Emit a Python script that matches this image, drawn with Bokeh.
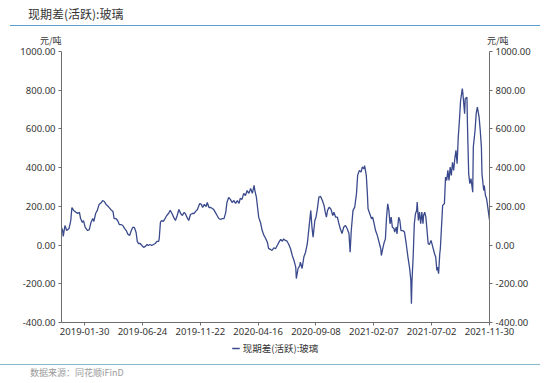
from bokeh.plotting import figure
from bokeh.models import (LinearAxis, FixedTicker, NumeralTickFormatter, Range1d,
                          Legend, LegendItem, ColumnDataSource, Div)
from bokeh.layouts import column
from bokeh.embed import file_html
from bokeh.resources import INLINE

# ---------------- data ----------------
trade_day = [0, 2, 3, 6, 9, 13, 16, 18, 21, 25, 28, 31, 33, 36, 38, 41, 45, 48, 51, 54, 56, 59, 62, 65,
             69, 71, 74, 77, 81, 85, 89, 91, 94, 97, 100, 103, 106, 109, 112, 115, 118, 120, 123, 126,
             129, 131, 133, 136, 139, 142, 145, 148, 150, 153, 156, 159, 162, 165, 168, 169, 171, 173,
             176, 179, 182, 185, 188, 191, 194, 197, 200, 203, 206, 209, 212, 214, 217, 220, 223, 226,
             229, 232, 235, 237, 239, 242, 244, 247, 250, 252, 255, 258, 261, 263, 266, 269, 272, 275,
             278, 281, 284, 286, 289, 292, 295, 298, 301, 304, 307, 309, 312, 315, 318, 321, 324, 327,
             330, 333, 334, 337, 339, 341, 344, 347, 350, 353, 356, 358, 361, 364, 367, 370, 373, 376,
             379, 382, 384, 387, 390, 393, 396, 399, 402, 405, 406, 409, 412, 413, 416, 419, 422, 425,
             428, 431, 433, 435, 438, 440, 442, 445, 448, 451, 454, 456, 458, 460, 463, 466, 469, 471,
             474, 477, 479, 482, 485, 488, 491, 494, 497, 499, 501, 504, 507, 510, 512, 515, 518, 520,
             523, 524, 527, 529, 530, 533, 536, 538, 540, 543, 546, 549, 552, 553, 556, 558, 560, 562,
             564, 566, 568, 570, 572, 575, 576, 579, 580, 583, 585, 587, 590, 593, 596, 599, 602, 604,
             605, 606, 608, 610, 612, 614, 615, 617, 619, 621, 623, 625, 626, 628, 630, 632, 634, 636,
             639, 642, 645, 647, 649, 650, 652, 654, 655, 657, 659, 662, 664, 666, 668, 670, 672, 674,
             676, 678, 680, 682, 684, 686, 688, 690, 693, 694, 697, 698, 701, 702, 704, 706, 708, 711,
             712, 715, 717, 719, 722, 724, 726, 727, 730, 731, 733, 735, 737, 740]
spread = [90, 75, 45, 101, 75, 85, 126, 194, 179, 169, 164, 169, 137, 117, 126, 91, 75, 80, 117, 137, 122,
          163, 179, 210, 220, 230, 225, 210, 199, 184, 174, 137, 137, 127, 106, 106, 101, 86, 75, 55, 50,
          70, 91, 91, 65, 19, 8, 8, -2, -12, -7, 3, -2, 3, -2, 3, 8, 19, 19, 34, 117, 126, 122, 137, 153,
          163, 179, 163, 143, 127, 153, 184, 163, 153, 169, 163, 143, 127, 158, 163, 163, 174, 184, 199,
          215, 210, 194, 210, 199, 220, 194, 194, 189, 184, 169, 153, 137, 132, 137, 137, 169, 220, 246,
          236, 220, 230, 215, 230, 215, 241, 236, 267, 256, 282, 267, 292, 267, 308, 287, 246, 194, 143,
          117, 75, 50, 34, 14, -17, -22, -28, -14, -19, -2, 15, 29, 20, 32, 24, 20, 3, -19, -54, -80,
          -114, -173, -121, -106, -88, -121, -62, -37, 7, 93, 179, 93, 41, 127, 144, 179, 248, 251, 230,
          204, 170, 144, 179, 196, 184, 153, 170, 144, 144, 118, 84, 60, 93, 101, 84, 60, -37, 75, 179,
          196, 265, 360, 386, 377, 403, 394, 411, 360, 256, 188, 162, 136, 144, 118, 75, 50, 15, -19,
          -54, -11, 15, 32, 144, 213, 179, 110, 144, 93, 84, 67, 93, 58, 144, 127, 75, 75, 67, 7, -62,
          -122, -183, -303, -183, -62, 110, 162, 179, 222, 127, 170, 110, 170, 110, 153, 170, 144, 75, 7,
          3, 24, -11, -45, -62, -131, -114, -148, -45, -19, 93, 205, 213, 351, 334, 386, 334, 403, 360,
          428, 386, 446, 489, 420, 558, 644, 747, 808, 782, 679, 756, 764, 609, 368, 317, 343, 273, 506,
          592, 679, 713, 661, 592, 506, 368, 282, 308, 256, 239, 196, 130]

tick_days = [40, 140, 240, 340, 440, 540, 640, 740]
tick_labels = ["2019-01-30", "2019-06-24", "2019-11-22", "2020-04-16",
               "2020-09-08", "2021-02-07", "2021-07-02", "2021-11-30"]
y_ticks = [-400, -200, 0, 200, 400, 600, 800, 1000]

series_name = "现期差(活跃):玻璃"
title_text = "现期差(活跃):玻璃"
unit_text = "元/吨"
source_text = "数据来源：同花顺iFinD"

# ---------------- styles ----------------
CJK = "Noto Sans CJK SC"
NUM = "Noto Sans"
AXIS_COLOR = "#6e6e6e"
TEXT_COLOR = "#333333"
LINE_COLOR = "#3a4a8c"
W = 550

# header (title + rule): rule at y ~25
header = Div(width=W, height=26, margin=0, text=(
    f"<div style=\"font-family:'{CJK}';font-size:12px;line-height:12px;color:{TEXT_COLOR};"
    f"box-sizing:content-box;margin:0 0 0 10px;width:512px;padding:8px 0 0 18px;height:16.5px;"
    f"border-bottom:1.5px solid #5b9fcf;white-space:nowrap\">{title_text}</div>"))

# unit labels
units = Div(width=W, height=19, margin=0, text=(
    f"<div style=\"position:relative;width:{W}px;height:19px;font-family:'{CJK}';"
    f"font-size:9px;line-height:10px;color:{TEXT_COLOR}\">"
    f"<span style=\"position:absolute;left:40px;top:10px;white-space:nowrap\">{unit_text}</span>"
    f"<span style=\"position:absolute;left:487px;top:10px;white-space:nowrap\">{unit_text}</span>"
    f"</div>"))

# ---------------- main figure ----------------
p = figure(width=W, height=295, output_backend="svg", toolbar_location=None,
           x_range=Range1d(0, 740), y_range=Range1d(-400, 1000),
           min_border_left=61, min_border_right=61, min_border_top=6, min_border_bottom=18)
p.outline_line_color = None
p.xgrid.grid_line_color = None
p.ygrid.grid_line_color = None
p.background_fill_color = "white"
p.border_fill_color = "white"

src = ColumnDataSource(dict(x=trade_day, y=spread))
p.line("x", "y", source=src, line_color=LINE_COLOR, line_width=1.3)

def style_axis(ax):
    ax.axis_line_color = AXIS_COLOR
    ax.major_tick_line_color = AXIS_COLOR
    ax.minor_tick_line_color = None
    ax.major_tick_in = 0
    ax.major_tick_out = 3
    ax.major_label_text_color = TEXT_COLOR
    ax.major_label_text_font = NUM
    ax.major_label_text_font_size = "9.5px"
    ax.major_label_standoff = 3

xa = p.xaxis[0]
style_axis(xa)
xa.ticker = FixedTicker(ticks=tick_days)
xa.major_label_overrides = {d: lab for d, lab in zip(tick_days, tick_labels)}
xa.major_label_standoff = 2

ya = p.yaxis[0]
style_axis(ya)
ya.ticker = FixedTicker(ticks=y_ticks)
ya.formatter = NumeralTickFormatter(format="0.00")

ra = LinearAxis(ticker=FixedTicker(ticks=y_ticks), formatter=NumeralTickFormatter(format="0.00"))
style_axis(ra)
p.add_layout(ra, "right")

# ---------------- legend strip ----------------
lg = figure(width=W, height=16, output_backend="svg", toolbar_location=None,
            x_range=Range1d(0, 1), y_range=Range1d(0, 1),
            min_border_left=10, min_border_right=0, min_border_top=0, min_border_bottom=0)
lg.axis.visible = False
lg.grid.visible = False
lg.outline_line_color = None
lg.border_fill_color = "white"
# legend-only renderer: a single undefined point, so nothing is drawn in the strip itself
lr = lg.line(x=[float("nan")], y=[float("nan")], line_color=LINE_COLOR, line_width=1.3)
legend = Legend(items=[LegendItem(label=series_name, renderers=[lr])],
                location="center", orientation="horizontal",
                glyph_width=8, glyph_height=10, label_standoff=3, padding=0, margin=0,
                label_height=10, label_text_font=CJK, label_text_font_size="9.5px",
                label_text_color=TEXT_COLOR, background_fill_alpha=0, border_line_color=None)
lg.add_layout(legend)

# footer (rule + source)
footer = Div(width=W, height=27, margin=0, text=(
    f"<div style=\"font-family:'{CJK}';font-size:9px;line-height:10px;color:#9a9a9a;"
    f"box-sizing:content-box;width:510px;height:10px;margin:8px 0 0 0;padding:3px 0 0 30px;"
    f"border-top:1.5px solid #86b9cb;white-space:nowrap\">{source_text}</div>"))

layout = column(header, units, p, lg, footer, spacing=0)

open("out.html", "w").write(file_html(layout, INLINE))
